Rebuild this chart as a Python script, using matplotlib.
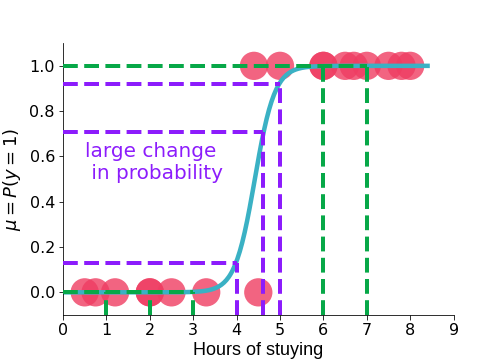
import numpy as np
import matplotlib
matplotlib.use("Agg")
import matplotlib.pyplot as plt

# data
hours_fail = [0.5, 0.75, 1.2, 2.0, 2.0, 2.5, 3.3, 4.5]
hours_pass = [4.4, 5.0, 6.0, 6.0, 6.5, 6.7, 7.0, 7.5, 7.8, 8.0]
# logistic model parameters (slope, midpoint)
slope = 4.36
midpoint = 4.42
curve_xmax = 8.4
# highlighted hours and their probability levels
green_low_x = [1, 2, 3]
green_high_x = [6, 7]
purple_x = [4.0, 4.6, 5.0]
purple_p = [0.13, 0.71, 0.92]

GREEN = '#07a848'
PURPLE = '#8c1cfc'
PINK = '#ef3d62'
TEAL = '#3ab1c4'

fig = plt.figure(figsize=(7, 5), dpi=72)
ax = fig.add_axes([0.125, 0.125, 0.775, 0.755])

ax.scatter(hours_fail, np.zeros(len(hours_fail)), s=800, color=PINK, alpha=0.8,
           edgecolors='none', zorder=1)
ax.scatter(hours_pass, np.ones(len(hours_pass)), s=800, color=PINK, alpha=0.8,
           edgecolors='none', zorder=1)

xs = np.linspace(0, curve_xmax, 300)
ax.plot(xs, 1 / (1 + np.exp(-slope * (xs - midpoint))), color=TEAL, lw=4.5, zorder=2)

ymin = -0.1
lw = 4
# green guides
ax.plot([0, max(green_high_x)], [1, 1], '--', color=GREEN, lw=lw, zorder=3)
ax.plot([0, max(green_low_x)], [0, 0], '--', color=GREEN, lw=lw, zorder=3)
for x in green_low_x:
    ax.plot([x, x], [ymin, 0], '--', color=GREEN, lw=lw, zorder=3)
for x in green_high_x:
    ax.plot([x, x], [ymin, 1], '--', color=GREEN, lw=lw, zorder=3)
# purple guides
for x, p in zip(purple_x, purple_p):
    ax.plot([0, x], [p, p], '--', color=PURPLE, lw=lw, zorder=3)
    ax.plot([x, x], [ymin, p], '--', color=PURPLE, lw=lw, zorder=3)

ax.text(0.5, 0.572, 'large change\n in probability', color=PURPLE, fontsize=20,
        ha='left', va='center')

ax.set_xlim(0, 9)
ax.set_ylim(-0.1, 1.1)
ax.set_xticks(range(0, 10))
ax.set_yticks([0.0, 0.2, 0.4, 0.6, 0.8, 1.0])
ax.tick_params(labelsize=16, length=4.5)
ax.set_xlabel('Hours of stuying', fontsize=18, family='Liberation Sans', labelpad=4)
ax.set_ylabel(r'$\mu = P(y=1)$', fontsize=18, labelpad=6)
ax.spines['top'].set_visible(False)
ax.spines['right'].set_visible(False)

fig.savefig('out.png', dpi=72)
